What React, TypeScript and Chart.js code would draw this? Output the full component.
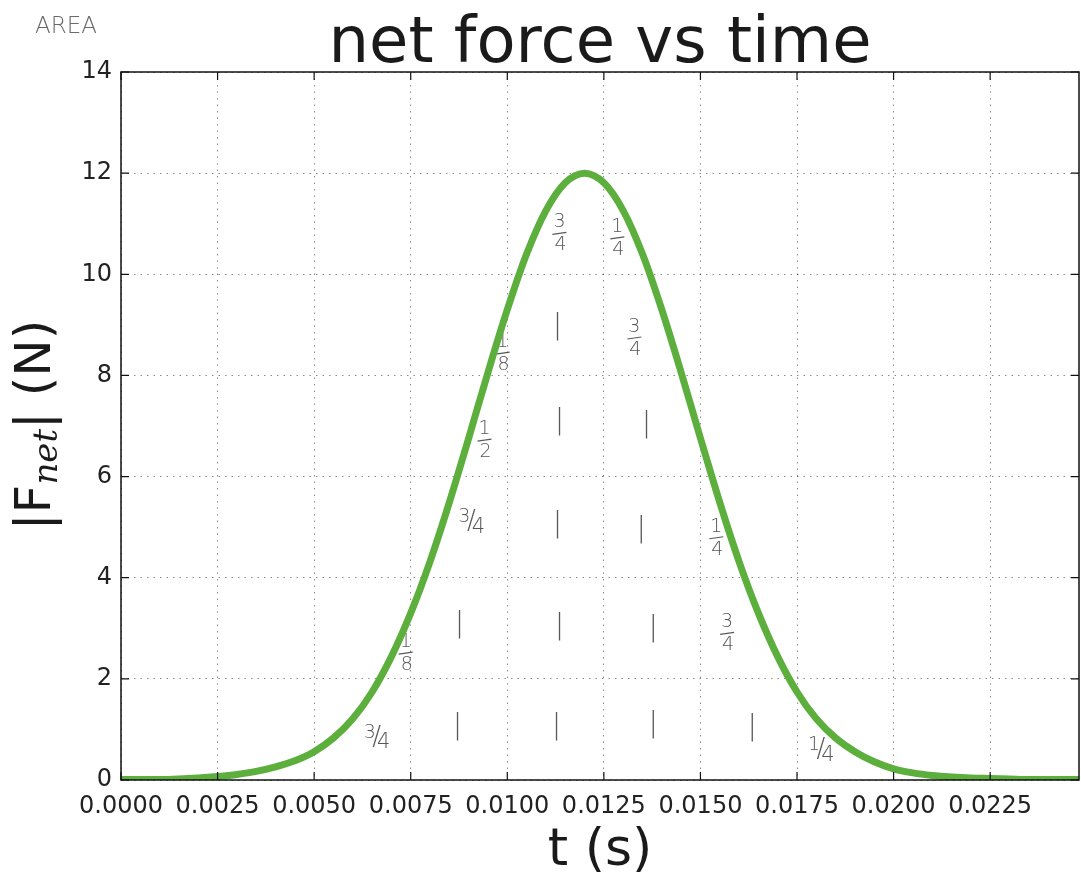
import React, { useEffect, useRef } from "react";
import { Chart, registerables } from "chart.js";

Chart.register(...registerables);

// ---- data ----
const tValues = [
  0.0, 0.0005, 0.001, 0.0015, 0.002, 0.0025, 0.003, 0.0035, 0.004, 0.0045,
  0.005, 0.0055, 0.006, 0.0065, 0.007, 0.0075, 0.008, 0.0085, 0.009, 0.0095,
  0.01, 0.0105, 0.011, 0.0115, 0.012, 0.0125, 0.013, 0.0135, 0.014, 0.0145,
  0.015, 0.0155, 0.016, 0.0165, 0.017, 0.0175, 0.018, 0.0185, 0.019, 0.0195,
  0.02, 0.0205, 0.021, 0.0215, 0.022, 0.0225, 0.023, 0.0235, 0.024, 0.0245, 0.0248,
];
const forceValues = [
  0.01, 0.01, 0.01, 0.02, 0.04, 0.07, 0.11, 0.17, 0.26, 0.38,
  0.56, 0.83, 1.21, 1.74, 2.44, 3.3, 4.32, 5.49, 6.76, 8.06,
  9.3, 10.4, 11.26, 11.81, 12.0, 11.81, 11.26, 10.4, 9.3, 8.06,
  6.76, 5.49, 4.32, 3.3, 2.44, 1.74, 1.21, 0.83, 0.56, 0.36,
  0.22, 0.14, 0.09, 0.06, 0.04, 0.03, 0.02, 0.01, 0.01, 0.01, 0.01,
];
const xTicks = [0, 0.0025, 0.005, 0.0075, 0.01, 0.0125, 0.015, 0.0175, 0.02, 0.0225];
const xTickLabels = ["0.0000", "0.0025", "0.0050", "0.0075", "0.0100", "0.0125", "0.0150", "0.0175", "0.0200", "0.0225"];
const yTicks = [0, 2, 4, 6, 8, 10, 12, 14];
const yTickLabels = ["0", "2", "4", "6", "8", "10", "12", "14"];
const X_MIN = 0;
const X_MAX = 0.0248;
const Y_MIN = 0;
const Y_MAX = 14;

const titleText = "net force vs time";
const xTitle = "t (s)";
const cornerNote = "AREA";

// handwritten notes: [t, F, text, kind]  kind: s = stacked fraction, i = inline fraction, b = stroke
const notes: [number, number, string, string][] = [
  [0.01135, 10.81, "3/4", "s"],
  [0.01285, 10.72, "1/4", "s"],
  [0.0113, 8.96, "|", "b"],
  [0.01329, 8.74, "3/4", "s"],
  [0.00988, 8.44, "1/8", "s"],
  [0.01135, 7.08, "|", "b"],
  [0.0136, 7.02, "|", "b"],
  [0.00941, 6.72, "1/2", "s"],
  [0.00907, 5.1, "3/4", "i"],
  [0.0113, 5.04, "|", "b"],
  [0.01347, 4.94, "|", "b"],
  [0.01541, 4.79, "1/4", "s"],
  [0.00876, 3.07, "|", "b"],
  [0.01135, 3.03, "|", "b"],
  [0.01378, 3.0, "|", "b"],
  [0.01569, 2.9, "3/4", "s"],
  [0.00737, 2.51, "1/8", "s"],
  [0.00662, 0.83, "3/4", "i"],
  [0.00871, 1.05, "|", "b"],
  [0.01127, 1.05, "|", "b"],
  [0.01378, 1.09, "|", "b"],
  [0.01634, 1.03, "|", "b"],
  [0.01812, 0.59, "1/4", "i"],
];

const FONT = "'DejaVu Sans', 'Liberation Sans', sans-serif";
const PENCIL = "rgba(70,70,70,0.9)";

const decorPlugin = {
  id: "decor",
  beforeDatasetsDraw(chart: any) {
    const ctx = chart.ctx as CanvasRenderingContext2D;
    const xs = chart.scales.x;
    const ys = chart.scales.y;
    ctx.save();
    ctx.fillStyle = PENCIL;
    ctx.strokeStyle = PENCIL;
    ctx.textAlign = "center";
    ctx.textBaseline = "middle";
    for (const [t, f, text, kind] of notes) {
      const cx = xs.getPixelForValue(t);
      const cy = ys.getPixelForValue(f);
      if (kind === "b") {
        ctx.font = `200 28px ${FONT}`;
        ctx.fillText(text, cx, cy);
      } else if (kind === "s") {
        const [num, den] = text.split("/");
        ctx.font = `200 19px ${FONT}`;
        ctx.fillText(num, cx, cy - 11);
        ctx.fillText(den, cx + 1, cy + 12);
        ctx.lineWidth = 1.2;
        ctx.beginPath();
        ctx.moveTo(cx - 7, cy + 1);
        ctx.lineTo(cx + 7, cy - 1);
        ctx.stroke();
      } else {
        const [num, den] = text.split("/");
        ctx.font = `200 19px ${FONT}`;
        ctx.fillText(num, cx - 7, cy - 5);
        ctx.font = `200 21px ${FONT}`;
        ctx.fillText(den, cx + 7, cy + 5);
        ctx.font = `200 26px ${FONT}`;
        ctx.fillText("/", cx, cy);
      }
    }
    ctx.restore();
  },
  afterDatasetsDraw(chart: any) {
    const ctx = chart.ctx as CanvasRenderingContext2D;
    const { left, right, top, bottom } = chart.chartArea;
    const xs = chart.scales.x;
    const ys = chart.scales.y;
    ctx.save();
    ctx.strokeStyle = "#111";
    ctx.lineWidth = 1.5;
    ctx.strokeRect(left, top, right - left, bottom - top);
    ctx.lineWidth = 1.2;
    ctx.beginPath();
    const tl = 8;
    for (const v of xTicks) {
      const px = xs.getPixelForValue(v);
      ctx.moveTo(px, bottom);
      ctx.lineTo(px, bottom - tl);
      ctx.moveTo(px, top);
      ctx.lineTo(px, top + tl);
    }
    for (const v of yTicks) {
      const py = ys.getPixelForValue(v);
      ctx.moveTo(left, py);
      ctx.lineTo(left + tl, py);
      ctx.moveTo(right, py);
      ctx.lineTo(right - tl, py);
    }
    ctx.stroke();
    ctx.restore();
  },
  afterDraw(chart: any) {
    const ctx = chart.ctx as CanvasRenderingContext2D;
    const { left, right } = chart.chartArea;
    const cx = (left + right) / 2;
    ctx.save();
    ctx.fillStyle = "#1a1a1a";
    ctx.textBaseline = "alphabetic";
    ctx.textAlign = "center";
    ctx.font = `64px ${FONT}`;
    ctx.fillText(titleText, cx, 62);
    ctx.font = `52px ${FONT}`;
    ctx.fillText(xTitle, cx, 865);

    // y axis title: |F_net| (N)
    ctx.translate(50, 425);
    ctx.rotate(-Math.PI / 2);
    ctx.textAlign = "left";
    const mainFont = `50px ${FONT}`;
    const subFont = `italic 34px 'DejaVu Serif', 'Liberation Serif', serif`;
    const parts: [string, string, number][] = [
      ["|F", mainFont, 0],
      ["net", subFont, 7],
      ["| (N)", mainFont, 0],
    ];
    let total = 0;
    for (const [s, f] of parts) {
      ctx.font = f;
      total += ctx.measureText(s).width;
    }
    let x = -total / 2;
    for (const [s, f, dy] of parts) {
      ctx.font = f;
      ctx.fillText(s, x, dy);
      x += ctx.measureText(s).width;
    }
    ctx.restore();

    ctx.save();
    ctx.fillStyle = "rgba(90,90,90,0.9)";
    ctx.font = `200 23px ${FONT}`;
    ctx.textAlign = "left";
    ctx.textBaseline = "alphabetic";
    ctx.fillText(cornerNote, 35, 33);
    ctx.restore();
  },
};

export default function App() {
  const ref = useRef<HTMLCanvasElement | null>(null);
  useEffect(() => {
    if (!ref.current) return;
    const chart = new Chart(ref.current, {
      type: "line",
      data: {
        datasets: [
          {
            data: tValues.map((t, i) => ({ x: t, y: forceValues[i] })),
            borderColor: "#5caf3c",
            borderWidth: 7,
            pointRadius: 0,
            fill: false,
            cubicInterpolationMode: "monotone",
          },
        ],
      },
      options: {
        responsive: false,
        animation: false,
        layout: { padding: { top: 72, right: 2, left: 0, bottom: 0 } },
        plugins: {
          legend: { display: false },
          title: { display: false },
          tooltip: { enabled: false },
        },
        scales: {
          x: {
            type: "linear",
            min: X_MIN,
            max: X_MAX,
            afterBuildTicks: (s: any) => {
              s.ticks = xTicks.map((v) => ({ value: v }));
            },
            afterFit: (s: any) => {
              s.height = 96;
            },
            ticks: {
              autoSkip: false,
              maxRotation: 0,
              minRotation: 0,
              padding: 12,
              color: "#222",
              font: { size: 24, family: FONT },
              callback: (_v: any, i: number) => xTickLabels[i],
            },
            grid: { color: "rgba(0,0,0,0.45)", lineWidth: 1, drawTicks: false },
            border: { display: false, dash: [1.5, 5] },
          },
          y: {
            type: "linear",
            min: Y_MIN,
            max: Y_MAX,
            afterBuildTicks: (s: any) => {
              s.ticks = yTicks.map((v) => ({ value: v }));
            },
            afterFit: (s: any) => {
              s.width = 121;
            },
            ticks: {
              autoSkip: false,
              padding: 9,
              color: "#222",
              font: { size: 24, family: FONT },
              callback: (_v: any, i: number) => yTickLabels[i],
            },
            grid: { color: "rgba(0,0,0,0.45)", lineWidth: 1, drawTicks: false },
            border: { display: false, dash: [1.5, 5] },
          },
        },
      },
      plugins: [decorPlugin],
    } as any);
    return () => chart.destroy();
  }, []);
  return (
    <div style={{ position: "fixed", left: 0, top: 0, width: 1081, height: 876, background: "#fff" }}>
      <canvas ref={ref} width={1081} height={876} style={{ display: "block" }} />
    </div>
  );
}
